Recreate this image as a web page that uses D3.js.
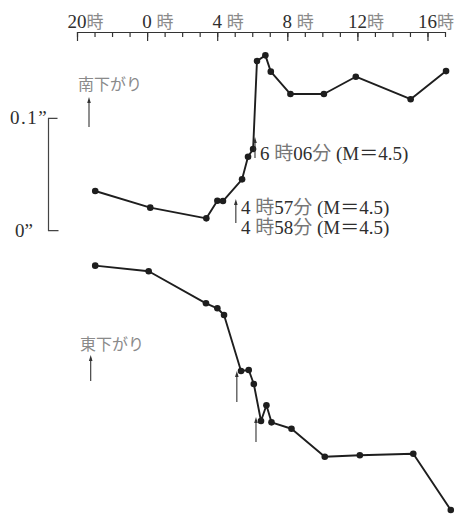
<!DOCTYPE html>
<html>
<head>
<meta charset="utf-8">
<script src="https://cdn.jsdelivr.net/npm/d3@7"></script>
<style>
  html, body { margin: 0; padding: 0; background: #fff; }
  svg { display: block; }
  text { font-family: "Liberation Serif", "Noto Sans CJK JP", serif; fill: #2e2e2e; }
  .kana { fill: #8a8a8a; font-family: "Noto Sans CJK JP", sans-serif; }
  tspan.cjk { fill: #777; }
</style>
</head>
<body>
<svg id="chart" width="464" height="514"></svg>
<script>
// Hours relative to midnight (20時 of the previous day = -4)
const hourTicks = d3.range(-4, 18);
const majorHours = [-4, 0, 4, 8, 12, 16];
const majorLabels = ["20", "0", "4", "8", "12", "16"];

// South-down component (arc seconds)
const southTimes  = [-2.96, 0.18, 3.38, 4.01, 4.33, 5.42, 5.76, 6.05, 6.27, 6.75, 7.06, 8.18, 10.09, 11.91, 15.04, 17.06];
const southValues = [0.0353, 0.0205, 0.0110, 0.0267, 0.0264, 0.0457, 0.0658, 0.0727, 0.151, 0.156, 0.1415, 0.1216, 0.1216, 0.137, 0.117, 0.142];

// East-down component (arc seconds, drawn below the south curve)
const eastTimes  = [-2.96, 0.09, 3.36, 4.01, 4.39, 5.36, 5.8, 6.09, 6.5, 6.81, 7.1, 8.24, 10.14, 12.14, 15.19, 17.33];
const eastValues = [-0.0311, -0.0361, -0.0646, -0.0690, -0.0750, -0.1248, -0.1239, -0.1364, -0.1693, -0.1553, -0.1705, -0.1762, -0.2011, -0.1998, -0.1984, -0.2485];

// Earthquakes marked on the curves
const quakeTimes  = [4.95, 6.1];
const quakeLabels = [["4 時57分 (M＝4.5)", "4 時58分 (M＝4.5)"], ["6 時06分 (M＝4.5)"]];

// Scale bar
const scaleValues = [0, 0.1];
const scaleLabels = ["0”", "0.1”"];

const svg = d3.select("#chart");
const x = d3.scaleLinear().domain([-4, 17]).range([77, 445]);
const y = d3.scaleLinear().domain([0, 0.1]).range([230.7, 118.3]);

// Time axis across the top
const axisY = 32;
const minorAxis = d3.axisBottom(x).tickValues(hourTicks).tickSize(5).tickSizeOuter(0).tickFormat("");
const majorAxis = d3.axisBottom(x).tickValues(majorHours).tickSize(9).tickSizeOuter(0).tickFormat("");
[minorAxis, majorAxis].forEach(ax => {
  const g = svg.append("g").attr("transform", `translate(0,${axisY})`).call(ax);
  g.selectAll("path, line").attr("stroke", "#333").attr("stroke-width", 1.2);
});
const hourLabel = svg.append("g");
majorHours.forEach((h, i) => {
  hourLabel.append("text").attr("x", x(h)).attr("y", 28)
    .attr("text-anchor", "middle").attr("font-size", 19).text(majorLabels[i]);
  hourLabel.append("text").attr("x", x(h) + 9.5).attr("y", 28)
    .attr("class", "kana").attr("font-size", 17).text("時");
});

// Scale bracket 0" – 0.1"
const bx = 48.5;
svg.append("path")
  .attr("d", `M${bx + 9},${y(0.1)}H${bx}V${y(0)}H${bx + 10}`)
  .attr("fill", "none").attr("stroke", "#444").attr("stroke-width", 1.2);
const scaleX = [15, 10];
scaleValues.forEach((v, i) => {
  svg.append("text").attr("x", scaleX[i]).attr("y", y(v) + 6)
    .attr("font-size", 19)
    .attr("letter-spacing", i === 1 ? 1.5 : 0).text(scaleLabels[i]);
});

// Curves
const line = d3.line().x(d => x(d[0])).y(d => y(d[1]));
function drawSeries(times, values) {
  const pts = times.map((t, i) => [t, values[i]]);
  svg.append("path").datum(pts).attr("d", line)
    .attr("fill", "none").attr("stroke", "#1e1e1e").attr("stroke-width", 1.9)
    .attr("stroke-linejoin", "round");
  svg.append("g").selectAll("circle").data(pts).join("circle")
    .attr("cx", d => x(d[0])).attr("cy", d => y(d[1])).attr("r", 3.3)
    .attr("fill", "#1e1e1e");
}
drawSeries(southTimes, southValues);
drawSeries(eastTimes, eastValues);

// Upward arrow with a small head
function arrow(px, y0, y1) {
  svg.append("line").attr("x1", px).attr("x2", px).attr("y1", y0 + 3).attr("y2", y1)
    .attr("stroke", "#333").attr("stroke-width", 1.1);
  svg.append("path").attr("d", `M${px},${y0}L${px - 1.8},${y0 + 6}L${px + 1.8},${y0 + 6}Z`)
    .attr("fill", "#333");
}

// Component labels
svg.append("text").attr("class", "kana").attr("x", 78).attr("y", 90).attr("font-size", 16).text("南下がり");
arrow(89, 97, 127);
svg.append("text").attr("class", "kana").attr("x", 80).attr("y", 350).attr("font-size", 16).text("東下がり");
arrow(90.7, 355, 381);

// Earthquake markers and labels
arrow(x(quakeTimes[0]) + 2, 199, 223);
arrow(x(quakeTimes[1]) + 1, 137, 158);
arrow(x(quakeTimes[0]) + 3, 371, 402);
arrow(x(quakeTimes[1]) + 2, 417, 442);

// Labels mix serif digits with lighter kanji
function eqLabel(tx, ty, str) {
  const t = svg.append("text").attr("x", tx).attr("y", ty).attr("font-size", 19);
  str.split(/([時分])/).filter(s => s.length).forEach(part => {
    t.append("tspan").attr("class", /[時分]/.test(part) ? "cjk" : null).text(part);
  });
}
eqLabel(241, 214, quakeLabels[0][0]);
eqLabel(241, 234, quakeLabels[0][1]);
eqLabel(260, 160, quakeLabels[1][0]);
</script>
</body>
</html>
